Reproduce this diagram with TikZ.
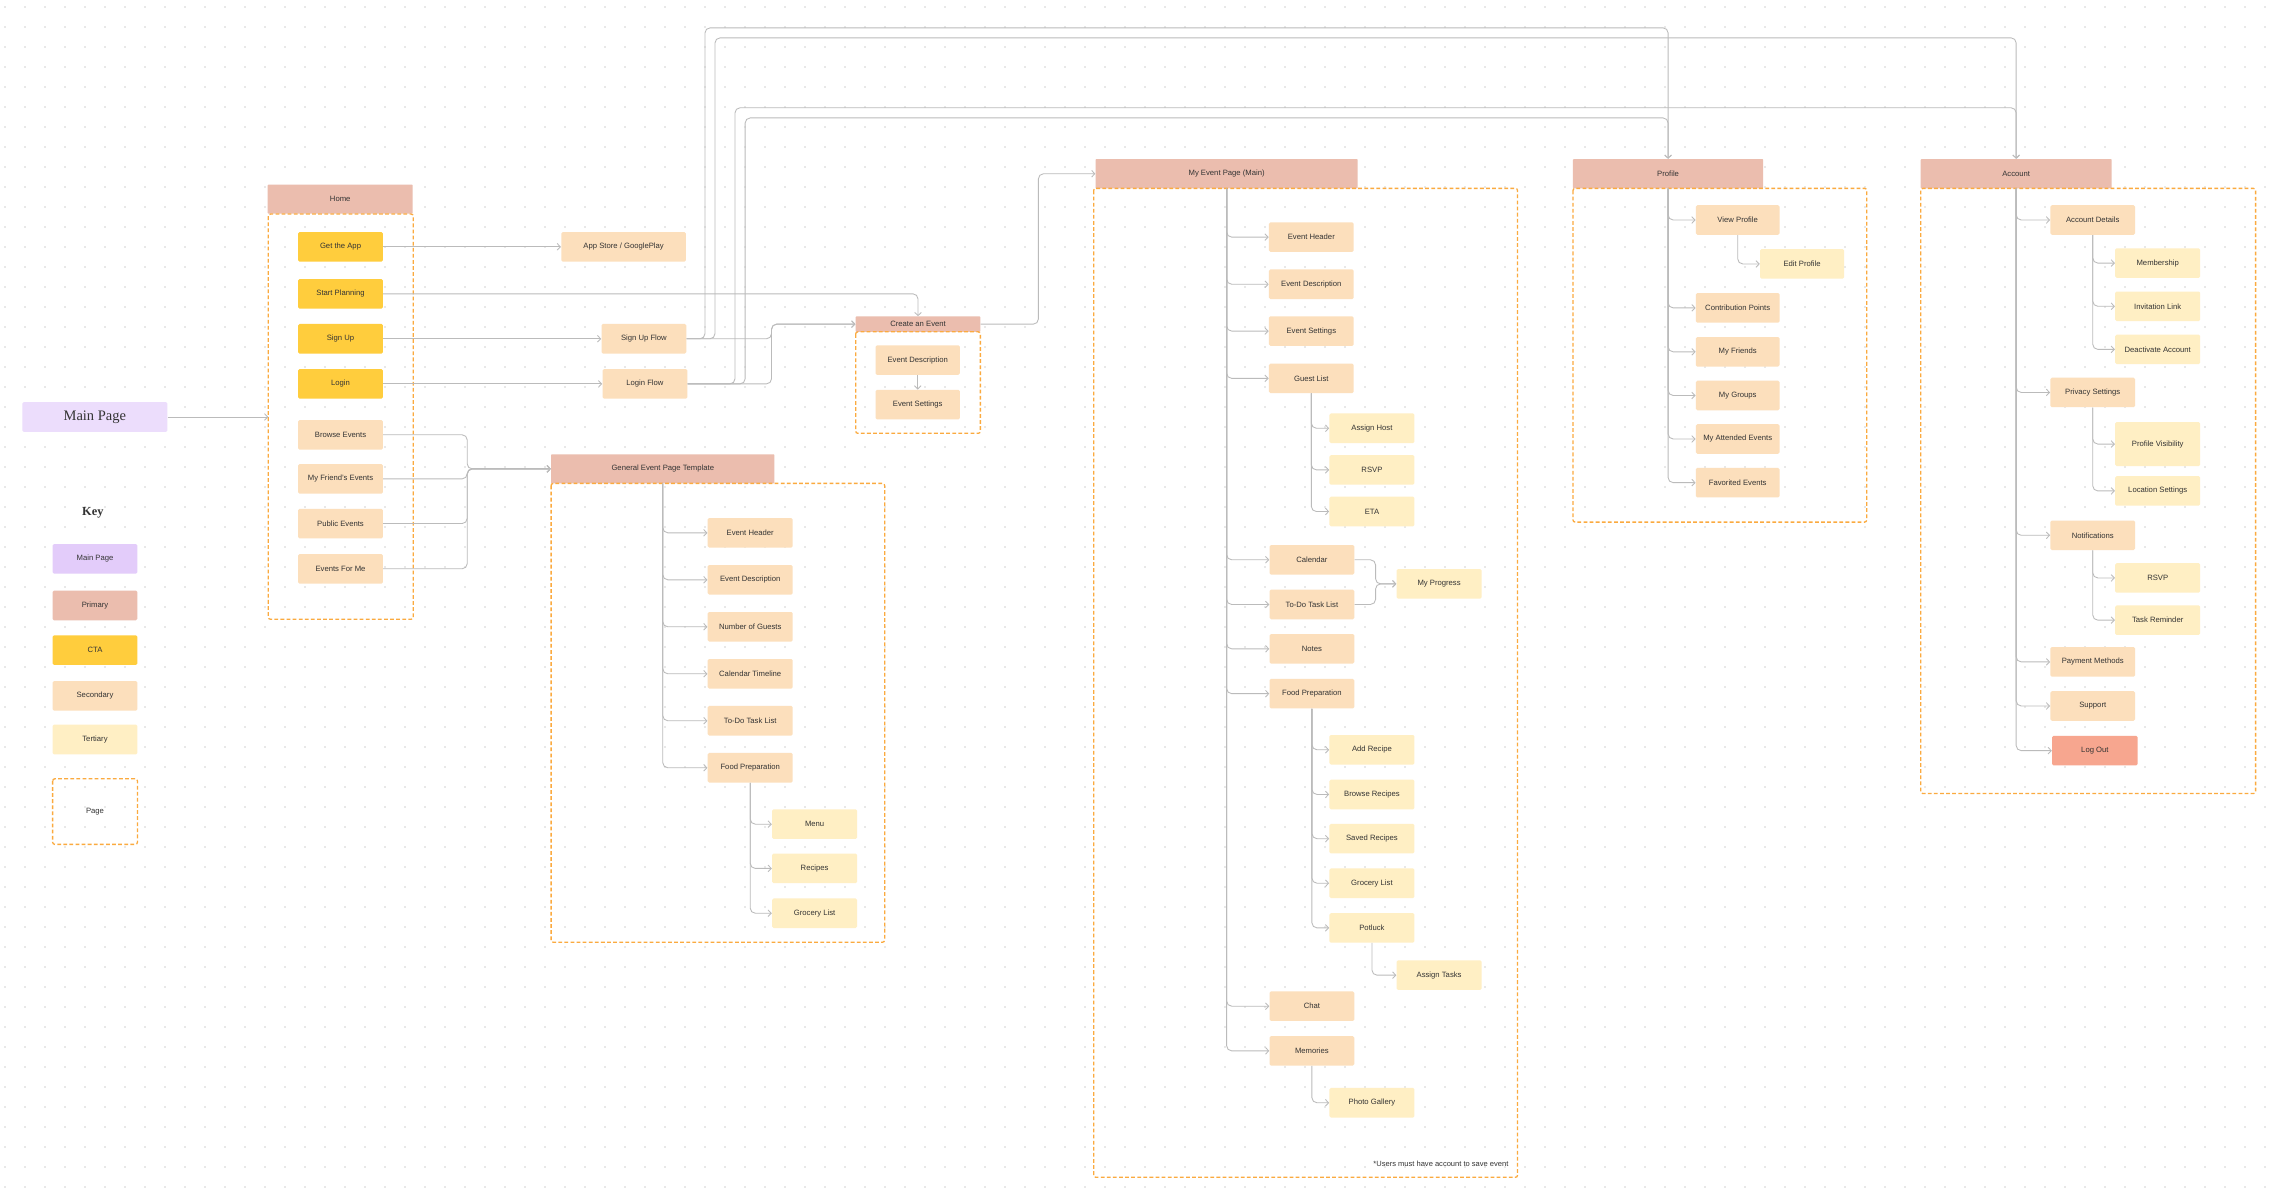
\documentclass[tikz,border=0pt]{standalone}
\usepackage{fontspec}
\setmainfont{Liberation Sans}
\newfontfamily\serifk{Liberation Serif}
\usetikzlibrary{arrows.meta}
\definecolor{prim}{HTML}{EBBDAE}
\definecolor{cta}{HTML}{FFCD3D}
\definecolor{secc}{HTML}{FCDFBC}
\definecolor{terc}{HTML}{FFEFC4}
\definecolor{mainc}{HTML}{ECDDFC}
\definecolor{mainkc}{HTML}{E3CCFA}
\definecolor{logc}{HTML}{F7A68F}
\definecolor{pagec}{HTML}{FBAA3F}
\definecolor{linec}{HTML}{BBBBBB}
\definecolor{dotc}{HTML}{D2D2D2}
\definecolor{txtc}{HTML}{333333}
\tikzset{
 bx/.style={rectangle, rounded corners=1pt, inner sep=0pt, text=txtc, font=\fontsize{5.3}{6}\selectfont, minimum width=58.5pt, minimum height=20.4pt},
 ctab/.style={bx, fill=cta},
 secb/.style={bx, fill=secc},
 terb/.style={bx, fill=terc},
 hdr/.style={bx, fill=prim, rounded corners=0.5pt},
 pagebox/.style={draw=pagec, line width=0.9pt, dash pattern=on 2.6pt off 1.6pt, rounded corners=1.5pt},
 cline/.style={draw=linec, line width=0.6pt, rounded corners=3.5pt, -{Straight Barb[length=2.2pt,width=4.6pt,line width=0.6pt]}},
}
\begin{document}
\begin{tikzpicture}[x=1pt,y=-1pt]
\useasboundingbox (0,0) rectangle (1568,825);
\fill[white] (0,0) rectangle (1568,825);
% dot grid
\foreach \j in {0,...,59} {
  \pgfmathsetmacro\yy{4.83+13.79*\j}
  \fill[dotc] \foreach \i in {0,...,113} { ({3.45+13.79*\i},\yy) circle (0.6) };
}

% ---------- headers ----------
\node[hdr, minimum width=100pt, minimum height=20pt] (homeH) at (234.6,137.3) {Home};
\node[hdr, minimum width=154pt, minimum height=20pt] (geH) at (457,323.3) {General Event Page Template};
\node[hdr, minimum width=86pt, minimum height=10.6pt] (ceH) at (633,223.5) {Create an Event};
\node[hdr, minimum width=180.6pt, minimum height=20.3pt] (meH) at (845.8,119.8) {My Event Page (Main)};
\node[hdr, minimum width=131.2pt, minimum height=20.2pt] (prH) at (1150.2,119.8) {Profile};
\node[hdr, minimum width=131.6pt, minimum height=20.2pt] (acH) at (1390.2,119.8) {Account};

% ---------- page boxes ----------
\draw[pagebox] (185,147.6) rectangle (285,427);
\draw[pagebox] (380,333.3) rectangle (610,649.7);
\draw[pagebox] (590,228.8) rectangle (676,298.8);
\draw[pagebox] (754.1,129.9) rectangle (1046.4,811.8);
\draw[pagebox] (1084.6,129.9) rectangle (1287.2,360);
\draw[pagebox] (1324.4,129.9) rectangle (1555.3,547.2);
\draw[pagebox] (36.3,537) rectangle (94.8,582.2);

% ---------- main / home ----------
\node[bx, fill=mainc, minimum width=100pt, minimum height=20.6pt, font=\serifk\fontsize{10}{12}\selectfont] (mainpage) at (65.4,287.5) {Main Page};
\coordinate (homeL) at (185,287.5);
\node[ctab] (getapp) at (234.8,170.2) {Get the App};
\node[ctab] (startplan) at (234.8,202.6) {Start Planning};
\node[ctab] (signup) at (234.8,233.6) {Sign Up};
\node[ctab] (login) at (234.8,264.7) {Login};
\node[secb] (browse) at (234.8,299.8) {Browse Events};
\node[secb] (friends) at (234.8,330.2) {My Friend’s Events};
\node[secb] (public) at (234.8,361) {Public Events};
\node[secb] (forme) at (234.8,392.2) {Events For Me};
\node[secb, minimum width=86pt] (appstore) at (430,170.2) {App Store / GooglePlay};
\node[secb] (sflow) at (444,233.6) {Sign Up Flow};
\node[secb] (lflow) at (444.7,264.7) {Login Flow};

% ---------- key ----------
\node[text=txtc, font=\serifk\bfseries\fontsize{8.5}{10}\selectfont] (keyt) at (64,353.5) {Key};
\node[bx, fill=mainkc] (kmain) at (65.5,385.3) {Main Page};
\node[bx, fill=prim] (kprim) at (65.5,417.5) {Primary};
\node[bx, fill=cta] (kcta) at (65.5,448.3) {CTA};
\node[bx, fill=secc] (ksec) at (65.5,479.8) {Secondary};
\node[bx, fill=terc] (kter) at (65.5,509.9) {Tertiary};
\node[bx] (kpage) at (65.5,559.6) {Page};

% ---------- general event page template ----------
\node[secb, minimum width=58.6pt] (geHead) at (517.3,367.4) {Event Header};
\node[secb, minimum width=58.6pt] (geDesc) at (517.3,399.8) {Event Description};
\node[secb, minimum width=58.6pt] (geNum) at (517.3,432.2) {Number of Guests};
\node[secb, minimum width=58.6pt] (geCal) at (517.3,464.6) {Calendar Timeline};
\node[secb, minimum width=58.6pt] (geTodo) at (517.3,497) {To-Do Task List};
\node[secb, minimum width=58.6pt] (geFood) at (517.3,529.4) {Food Preparation};
\node[terb, minimum width=58.6pt] (geMenu) at (561.7,568.3) {Menu};
\node[terb, minimum width=58.6pt] (geRec) at (561.7,598.8) {Recipes};
\node[terb, minimum width=58.6pt] (geGro) at (561.7,629.7) {Grocery List};

% ---------- create an event ----------
\node[secb, minimum width=58pt] (ceDesc) at (632.8,248.3) {Event Description};
\node[secb, minimum width=58pt] (ceSet) at (632.8,279) {Event Settings};

% ---------- my event page ----------
\node[secb, minimum width=58.4pt] (meHead) at (904.2,163.5) {Event Header};
\node[secb, minimum width=58.4pt] (meDesc) at (904.2,196) {Event Description};
\node[secb, minimum width=58.4pt] (meSet) at (904.2,228.3) {Event Settings};
\node[secb, minimum width=58.4pt] (meGuest) at (904.2,260.9) {Guest List};
\node[terb, minimum width=58.6pt] (meHost) at (946,295.3) {Assign Host};
\node[terb, minimum width=58.6pt] (meRsvp) at (946,324) {RSVP};
\node[terb, minimum width=58.6pt] (meEta) at (946,352.7) {ETA};
\node[secb, minimum width=58.4pt] (meCal) at (904.6,386) {Calendar};
\node[secb, minimum width=58.4pt] (meTodo) at (904.6,416.8) {To-Do Task List};
\node[terb, minimum width=58.6pt] (meProg) at (992.3,402.6) {My Progress};
\node[secb, minimum width=58.4pt] (meNotes) at (904.6,447.4) {Notes};
\node[secb, minimum width=58.4pt] (meFood) at (904.6,478.3) {Food Preparation};
\node[terb, minimum width=58.6pt] (meAdd) at (946,517) {Add Recipe};
\node[terb, minimum width=58.6pt] (meBrowse) at (946,547.8) {Browse Recipes};
\node[terb, minimum width=58.6pt] (meSaved) at (946,578.3) {Saved Recipes};
\node[terb, minimum width=58.6pt] (meGro) at (946,609) {Grocery List};
\node[terb, minimum width=58.6pt] (mePot) at (946,639.8) {Potluck};
\node[terb, minimum width=58.6pt] (meTasks) at (992.3,672.4) {Assign Tasks};
\node[secb, minimum width=58.4pt] (meChat) at (904.6,693.8) {Chat};
\node[secb, minimum width=58.4pt] (meMem) at (904.6,724.6) {Memories};
\node[terb, minimum width=58.6pt] (mePhoto) at (946,760.4) {Photo Gallery};
\node[anchor=east, inner sep=0pt, text=txtc, font=\fontsize{5.2}{6}\selectfont] (note) at (1040.3,802.6) {*Users must have account to save event};

% ---------- profile ----------
\node[secb, minimum width=57.7pt] (prView) at (1198.2,151.7) {View Profile};
\node[terb, minimum width=58pt] (prEdit) at (1242.6,182) {Edit Profile};
\node[secb, minimum width=57.7pt] (prPts) at (1198.2,212.3) {Contribution Points};
\node[secb, minimum width=57.7pt] (prFr) at (1198.2,242.6) {My Friends};
\node[secb, minimum width=57.7pt] (prGr) at (1198.2,272.7) {My Groups};
\node[secb, minimum width=57.7pt] (prAtt) at (1198.2,302.7) {My Attended Events};
\node[secb, minimum width=57.7pt] (prFav) at (1198.2,332.8) {Favorited Events};

% ---------- account ----------
\node[secb, minimum width=58.4pt] (acDet) at (1443,151.7) {Account Details};
\node[terb, minimum width=58.6pt] (acMem) at (1487.8,181.4) {Membership};
\node[terb, minimum width=58.6pt] (acInv) at (1487.8,211.2) {Invitation Link};
\node[terb, minimum width=58.6pt] (acDeac) at (1487.8,240.9) {Deactivate Account};
\node[secb, minimum width=58.4pt] (acPriv) at (1443,270.6) {Privacy Settings};
\node[terb, minimum width=58.6pt, minimum height=30.4pt] (acVis) at (1487.8,306.2) {Profile Visibility};
\node[terb, minimum width=58.6pt] (acLoc) at (1487.8,338.5) {Location Settings};
\node[secb, minimum width=58.4pt] (acNot) at (1443,369.1) {Notifications};
\node[terb, minimum width=58.6pt] (acRsvp) at (1487.8,398.5) {RSVP};
\node[terb, minimum width=58.6pt] (acTask) at (1487.8,427.6) {Task Reminder};
\node[secb, minimum width=58.4pt] (acPay) at (1443,456.4) {Payment Methods};
\node[secb, minimum width=58.4pt] (acSup) at (1443,486.8) {Support};
\node[bx, fill=logc, minimum width=59pt] (acLog) at (1444.5,517.6) {Log Out};

% ---------- connectors ----------
\draw[cline] (mainpage.east) -- (homeL);
\draw[cline] (getapp.east) -- (appstore.west);
\draw[cline] (signup.east) -- (sflow.west);
\draw[cline] (login.east) -- (lflow.west);
\foreach \n in {browse,friends,public,forme}
  \draw[cline] (\n.east) -- ++(57.9,0) |- (geH.west);
\draw[cline] (startplan.east) -| (ceH.north);
\draw[cline] (sflow.east) -- (532,233.6) |- (ceH.west);
\draw[cline] (lflow.east) -- (532,264.7) |- (ceH.west);
\draw[cline] (ceH.east) -- (716,223.5) |- (meH.west);
\draw[cline] (ceDesc.south) -- (ceSet.north);
% long routes to profile and account
\draw[cline] (sflow.east) -- (486.1,233.6) -- (486.1,19.2) -| (prH.north);
\draw[cline] (sflow.east) -- (493,233.6) -- (493,26.1) -| (acH.north);
\draw[cline] (lflow.east) -- (506.8,264.7) -- (506.8,74.3) -| (acH.north);
\draw[cline] (lflow.east) -- (513.8,264.7) -- (513.8,81.3) -| (prH.north);
% general event tree
\foreach \n in {geHead,geDesc,geNum,geCal,geTodo,geFood}
  \draw[cline] (geH.south) |- (\n.west);
\foreach \n in {geMenu,geRec,geGro}
  \draw[cline] (geFood.south) |- (\n.west);
% my event tree
\foreach \n in {meHead,meDesc,meSet,meGuest,meCal,meTodo,meNotes,meFood,meChat,meMem}
  \draw[cline] (meH.south) |- (\n.west);
\foreach \n in {meHost,meRsvp,meEta}
  \draw[cline] (meGuest.south) |- (\n.west);
\foreach \n in {meAdd,meBrowse,meSaved,meGro,mePot}
  \draw[cline] (meFood.south) |- (\n.west);
\draw[cline] (mePot.south) |- (meTasks.west);
\draw[cline] (meMem.south) |- (mePhoto.west);
\draw[cline] (meCal.east) -- ++(14.5,0) |- (meProg.west);
\draw[cline] (meTodo.east) -- ++(14.5,0) |- (meProg.west);
% profile tree
\foreach \n in {prView,prPts,prFr,prGr,prAtt,prFav}
  \draw[cline] (prH.south) |- (\n.west);
\draw[cline] (prView.south) |- (prEdit.west);
% account tree
\foreach \n in {acDet,acPriv,acNot,acPay,acSup,acLog}
  \draw[cline] (acH.south) |- (\n.west);
\foreach \n in {acMem,acInv,acDeac}
  \draw[cline] (acDet.south) |- (\n.west);
\foreach \n in {acVis,acLoc}
  \draw[cline] (acPriv.south) |- (\n.west);
\foreach \n in {acRsvp,acTask}
  \draw[cline] (acNot.south) |- (\n.west);
\end{tikzpicture}
\end{document}
